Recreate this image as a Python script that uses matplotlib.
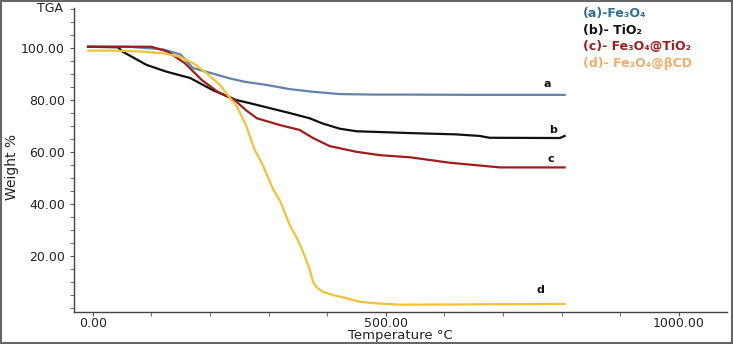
import matplotlib.pyplot as plt
from matplotlib.ticker import MultipleLocator, FormatStrFormatter
from matplotlib.patches import Rectangle

# TGA curves (temperature in C, weight %)
temp_a = [-8, 60, 120, 150, 171, 200, 234, 260, 297, 336, 375, 421, 480, 541, 650, 805]
wt_a = [100.5, 100.5, 99.5, 97.5, 92.3, 90.5, 88.3, 87.0, 85.8, 84.2, 83.2, 82.3, 82.1, 82.1, 82.0, 82.0]

temp_b = [-8, 43, 51, 92, 126, 166, 205, 245, 268, 302, 336, 370, 392, 421, 450, 490, 541, 620, 660, 677, 797, 805]
wt_b = [100.5, 100.3, 98.6, 93.5, 90.9, 88.5, 83.8, 80.0, 78.8, 76.9, 75.0, 73.0, 71.0, 69.0, 68.0, 67.7, 67.3, 66.8, 66.2, 65.5, 65.4, 66.2]

temp_c = [-8, 100, 128, 157, 186, 213, 242, 262, 280, 319, 353, 375, 404, 450, 490, 541, 609, 695, 805]
wt_c = [100.5, 100.5, 98.6, 94.2, 87.7, 83.2, 80.0, 76.0, 73.0, 70.4, 68.5, 65.5, 62.3, 60.1, 58.8, 58.0, 55.9, 54.1, 54.1]

temp_d = [-8, 34, 80, 119, 148, 171, 194, 217, 246, 262, 276, 290, 307, 320, 336, 348, 358, 370, 376,
          382, 392, 410, 433, 455, 478, 524, 609, 700, 805]
wt_d = [99.0, 99.0, 98.7, 98.0, 96.7, 94.2, 90.4, 85.8, 77.4, 70.0, 61.0, 55.0, 46.0, 41.0, 32.0, 27.0,
        22.0, 15.0, 10.0, 8.0, 6.3, 5.0, 3.8, 2.5, 1.9, 1.3, 1.4, 1.5, 1.6]

series = [
    (temp_a, wt_a, '#6283a8', 'a', 86),
    (temp_b, wt_b, '#111111', 'b', 68.5),
    (temp_c, wt_c, '#a01d1d', 'c', 57.5),
    (temp_d, wt_d, '#f2c234', 'd', 6.8),
]

legend_labels = ['(a)-Fe₃O₄', '(b)- TiO₂', '(c)- Fe₃O₄@TiO₂', '(d)- Fe₃O₄@βCD']
legend_colors = ['#2f6e96', '#111111', '#9b2020', '#efae6a']

fig = plt.figure(figsize=(7.33, 3.44), dpi=100)
ax = fig.add_axes([74 / 733, 32 / 344, 653 / 733, 304 / 344])

for t, w, col, tag, ytag in series:
    ax.plot(t, w, color=col, lw=1.6, solid_joinstyle='round')

# small letter tags next to curve ends
tag_x = {'a': 776, 'b': 786, 'c': 782, 'd': 764}
for t, w, col, tag, ytag in series:
    ax.text(tag_x[tag], ytag, tag, fontsize=8, fontweight='bold', color='#111111',
            ha='center', va='center')

ax.set_xlim(-32, 1082)
ax.set_ylim(-1.5, 115.4)

ax.xaxis.set_major_locator(MultipleLocator(500))
ax.xaxis.set_minor_locator(MultipleLocator(100))
ax.yaxis.set_major_locator(MultipleLocator(20))
ax.yaxis.set_minor_locator(MultipleLocator(5))
ax.xaxis.set_major_formatter(FormatStrFormatter('%.2f'))
ax.yaxis.set_major_formatter(FormatStrFormatter('%.2f'))
ax.set_yticks([20, 40, 60, 80, 100])

ax.tick_params(axis='both', which='both', direction='out', color='#555555', labelsize=9,
               labelcolor='#222222')
ax.tick_params(axis='both', which='major', length=3, width=0.8)
ax.tick_params(axis='both', which='minor', length=3, width=0.6)
ax.tick_params(axis='x', pad=0.5)

for side in ['top', 'right']:
    ax.spines[side].set_visible(False)
for side in ['left', 'bottom']:
    ax.spines[side].set_color('#444444')
    ax.spines[side].set_linewidth(1.0)

ax.set_xlabel('Temperature °C', fontsize=9.5, color='#222222', labelpad=-0.5)
fig.text(12 / 733, 1 - 167 / 344, 'Weight %', rotation=90, fontsize=10, color='#222222',
         ha='center', va='center')
fig.text(50 / 733, 1 - 8 / 344, 'TGA', fontsize=9, color='#222222', ha='center', va='center')

# colored legend text block
for i, (lab, col) in enumerate(zip(legend_labels, legend_colors)):
    fig.text(583 / 733, 1 - (14 + 16.4 * i) / 344, lab, fontsize=9, fontweight='bold',
             color=col, ha='left', va='center')

# grey frame round the whole picture
fig.patches.append(Rectangle((0.002, 0.003), 0.996, 0.994, transform=fig.transFigure,
                             fill=False, edgecolor='#666666', linewidth=1.5))

fig.savefig('out.png', dpi=100)
